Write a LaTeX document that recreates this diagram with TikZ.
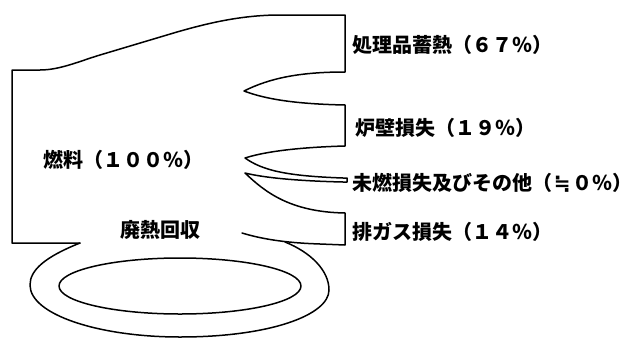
\documentclass[tikz,border=0pt]{standalone}
\usepackage{fontspec}
\newfontfamily\cjk{Noto Sans CJK JP}
\newfontfamily\symfont{DejaVu Sans}
\begin{document}
\begin{tikzpicture}[x=1pt,y=-1pt,
  flow/.style={line width=1.5pt,line join=round,line cap=round},
  lbl/.style={anchor=west,inner sep=0pt,font=\cjk\bfseries\fontsize{20}{24}\selectfont}]
\useasboundingbox (0,0) rectangle (644,340);
% main flow outline
\draw[flow] (80,243) -- (12,243) -- (12,70) -- (40,70)
  .. controls (60,70) and (80,61) .. (100,55) -- (177,32)
  .. controls (205,24) and (240,15) .. (280,15) -- (345,15) -- (345,72)
  .. controls (300,72) and (270,78) .. (244,91)
  .. controls (265,99) and (295,104) .. (345,105) -- (345,146)
  .. controls (310,147) and (270,150) .. (245,158)
  .. controls (262,170) and (285,176) .. (343,178) -- (347,178) -- (347,182) -- (343,182)
  .. controls (300,181) and (265,178) .. (245,173)
  .. controls (265,192) and (290,212) .. (345,213) -- (345,245) -- (320,244)
  .. controls (290,243) and (265,240) .. (242,233);
% recirculation loop (outer)
\draw[flow] (80,243) .. controls (45,257) and (30,270) .. (30,285)
  .. controls (30,315) and (100,337) .. (180,337)
  .. controls (270,337) and (329,315) .. (329,290)
  .. controls (329,270) and (310,252) .. (285,242);
% inner loop
\draw[flow] (180,286) ellipse [x radius=121, y radius=28];
% labels
\node[lbl] (fuel) at (43,160) {燃料（１００％）};
\node[lbl] (rec) at (120,230) {廃熱回収};
\node[lbl] (o1) at (352,45) {処理品蓄熱（６７％）};
\node[lbl] (o2) at (355,128) {炉壁損失（１９％）};
\node[lbl] (o3) at (352,183) {未燃損失及びその他（\makebox[20pt]{\symfont\bfseries ≒}０％）};
\node[lbl] (o4) at (352,232) {排ガス損失（１４％）};
\end{tikzpicture}
\end{document}
